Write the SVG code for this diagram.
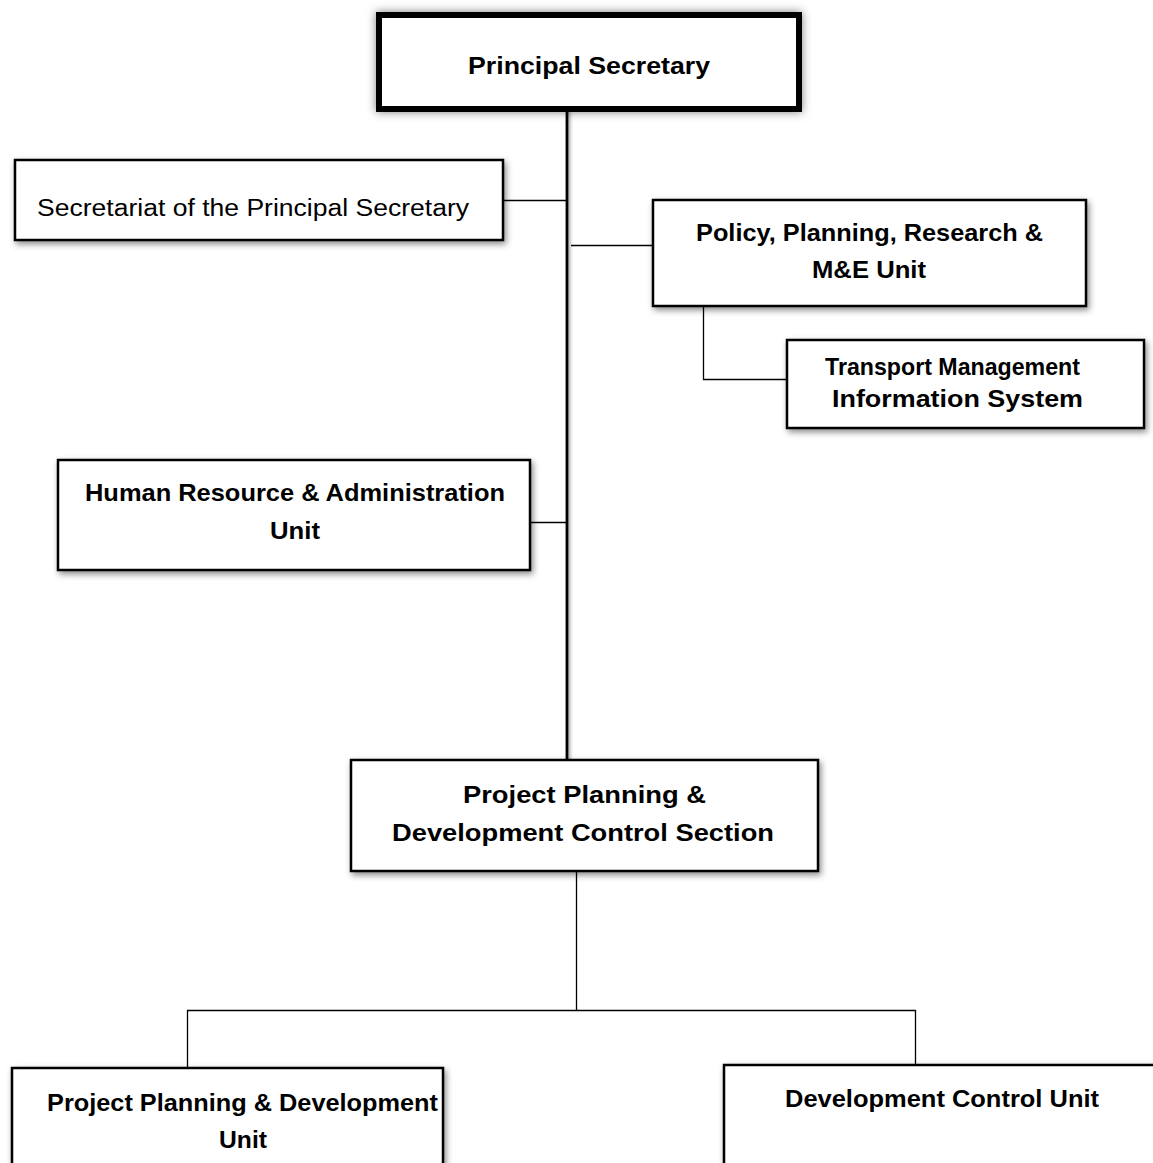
<svg xmlns="http://www.w3.org/2000/svg" width="1153" height="1163" viewBox="0 0 1153 1163">
  <defs>
    <filter id="shadow" x="-10%" y="-20%" width="120%" height="150%">
      <feDropShadow dx="2" dy="3" stdDeviation="3" flood-color="#000" flood-opacity="0.45"/>
    </filter>
    <filter id="glow" x="-10%" y="-30%" width="120%" height="160%">
      <feDropShadow dx="0" dy="0" stdDeviation="5" flood-color="#000" flood-opacity="0.5"/>
    </filter>
    <filter id="lineShadow" filterUnits="userSpaceOnUse" x="0" y="0" width="1153" height="1163">
      <feDropShadow dx="2" dy="1" stdDeviation="1.5" flood-color="#000" flood-opacity="0.35"/>
    </filter>
  </defs>
  <style>
    .box { fill: #fff; stroke: #000; stroke-width: 2.5; }
    .top { fill: #fff; stroke: #000; stroke-width: 6; }
    .link { fill: none; stroke: #000; stroke-width: 1.3; }
    .trunk { fill: none; stroke: #000; stroke-width: 2.8; }
    .b { font-family: "Liberation Sans", "DejaVu Sans", sans-serif; font-weight: bold; font-size: 24px; fill: #000; text-anchor: middle; }
    .r { font-family: "Liberation Sans", "DejaVu Sans", sans-serif; font-size: 23px; fill: #000; text-anchor: middle; }
  </style>
  <rect width="1153" height="1163" fill="#fff"/>

  <!-- connectors -->
  <g id="connectors">
    <line class="trunk" x1="567" y1="110" x2="567" y2="760" filter="url(#lineShadow)"/>
    <line class="link" x1="503" y1="200.5" x2="567" y2="200.5"/>
    <line class="link" x1="571" y1="245.5" x2="653" y2="245.5"/>
    <polyline class="link" points="703.5,306 703.5,379.5 787,379.5"/>
    <line class="link" x1="530" y1="522.5" x2="567" y2="522.5"/>
    <line class="link" x1="576.5" y1="871" x2="576.5" y2="1010.5"/>
    <polyline class="link" points="187.5,1068 187.5,1010.5 915.5,1010.5 915.5,1065"/>
  </g>

  <g id="principal-secretary">
    <rect class="top" x="379" y="15" width="420" height="94" filter="url(#glow)"/>
    <text class="b" x="589" y="74" font-size="26" textLength="242" lengthAdjust="spacingAndGlyphs">Principal Secretary</text>
  </g>

  <g id="secretariat">
    <rect class="box" x="15" y="160" width="488" height="80" filter="url(#shadow)"/>
    <text class="r" x="253" y="216" textLength="432" lengthAdjust="spacingAndGlyphs">Secretariat of the Principal Secretary</text>
  </g>

  <g id="policy-unit">
    <rect class="box" x="653" y="200" width="433" height="106" filter="url(#shadow)"/>
    <text class="b" x="869.5" y="241" textLength="347" lengthAdjust="spacingAndGlyphs">Policy, Planning, Research &amp;</text>
    <text class="b" x="869" y="278" textLength="114" lengthAdjust="spacingAndGlyphs">M&amp;E Unit</text>
  </g>

  <g id="tmis">
    <rect class="box" x="787" y="340" width="357" height="88" filter="url(#shadow)"/>
    <text class="b" x="952.5" y="375" textLength="255" lengthAdjust="spacingAndGlyphs">Transport Management</text>
    <text class="b" x="957.5" y="407" textLength="251" lengthAdjust="spacingAndGlyphs">Information System</text>
  </g>

  <g id="hr-admin">
    <rect class="box" x="58" y="460" width="472" height="110" filter="url(#shadow)"/>
    <text class="b" x="295" y="501" textLength="420" lengthAdjust="spacingAndGlyphs">Human Resource &amp; Administration</text>
    <text class="b" x="295" y="539" textLength="50" lengthAdjust="spacingAndGlyphs">Unit</text>
  </g>

  <g id="ppdc-section">
    <rect class="box" x="351" y="760" width="467" height="111" filter="url(#shadow)"/>
    <text class="b" x="584.5" y="803" textLength="243" lengthAdjust="spacingAndGlyphs">Project Planning &amp;</text>
    <text class="b" x="583" y="841" textLength="382" lengthAdjust="spacingAndGlyphs">Development Control Section</text>
  </g>

  <g id="ppd-unit">
    <rect class="box" x="12" y="1068" width="431" height="110" filter="url(#shadow)"/>
    <text class="b" x="242.5" y="1111" textLength="391" lengthAdjust="spacingAndGlyphs">Project Planning &amp; Development</text>
    <text class="b" x="243" y="1148" textLength="48" lengthAdjust="spacingAndGlyphs">Unit</text>
  </g>

  <g id="development-control-unit">
    <rect class="box" x="724" y="1065" width="440" height="110" filter="url(#shadow)"/>
    <text class="b" x="942" y="1107" textLength="314" lengthAdjust="spacingAndGlyphs">Development Control Unit</text>
  </g>
</svg>
